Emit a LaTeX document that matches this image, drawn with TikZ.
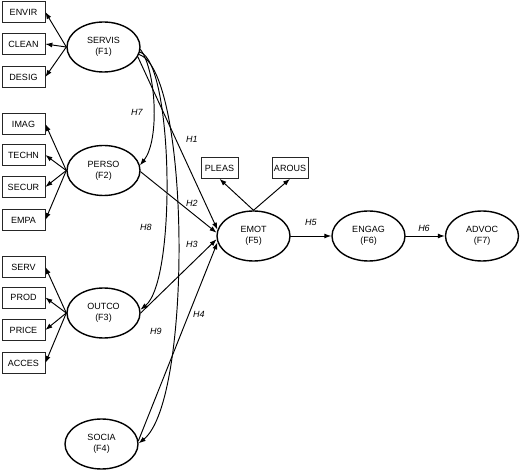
\documentclass[tikz,border=0pt]{standalone}
\usepackage{fontspec}
\setmainfont{Liberation Sans}
\usetikzlibrary{arrows.meta,shapes.geometric}

\begin{document}
\begin{tikzpicture}[x=1pt,y=-1pt,every path/.style={line cap=round},font=\fontsize{9}{11}\selectfont]

        \tikzset{factor/.style = {shape=ellipse,draw,line width=1.4pt,minimum width=73pt,minimum height=50pt,inner sep=0pt,align=center}}
        \tikzset{item/.style = {shape=rectangle,draw=black!85,line width=0.7pt,minimum width=43pt,minimum height=21pt,inner sep=1.5pt}}
        \tikzset{edge/.style = {-{Latex[length=7pt,width=5pt]},line width=0.95pt}}
        \tikzset{hyp/.style = {font=\itshape\fontsize{9}{11}\selectfont}}

        \useasboundingbox (0,0) rectangle (520,470);

        % latent factors
        \node[factor] (SERVIS) at (103.5,47) {SERVIS\\(F1)};
        \node[factor] (PERSO) at (103.5,170.5) {PERSO\\(F2)};
        \node[factor] (OUTCO) at (103.5,313) {OUTCO\\(F3)};
        \node[factor] (SOCIA) at (101.5,444) {SOCIA\\(F4)};
        \node[factor] (EMOT) at (253.5,236) {EMOT\\(F5)};
        \node[factor] (ENGAG) at (368.5,236) {ENGAG\\(F6)};
        \node[factor] (ADVOC) at (482,236) {ADVOC\\(F7)};

        % indicators
        \node[item] (ENVIR) at (23.5,12) {ENVIR};
        \node[item] (CLEAN) at (23.5,44) {CLEAN};
        \node[item] (DESIG) at (23.5,77) {DESIG};
        \node[item] (IMAG) at (23.5,124) {IMAG};
        \node[item] (TECHN) at (23.5,155) {TECHN};
        \node[item] (SECUR) at (23.5,187) {SECUR};
        \node[item] (EMPA) at (23.5,220) {EMPA};
        \node[item] (SERV) at (23.5,267) {SERV};
        \node[item] (PROD) at (23.5,297.5) {PROD};
        \node[item] (PRICE) at (23.5,330) {PRICE};
        \node[item] (ACCES) at (23.5,363) {ACCES};
        \node[item,minimum width=37pt] (PLEAS) at (219.5,168) {PLEAS};
        \node[item,minimum width=36pt] (AROUS) at (290,168) {AROUS};

        \draw[edge] (SERVIS.west) to (ENVIR.east);
        \draw[edge] (SERVIS.west) to (CLEAN.east);
        \draw[edge] (SERVIS.west) to (DESIG.east);
        \draw[edge] (PERSO.west) to (IMAG.east);
        \draw[edge] (PERSO.west) to (TECHN.east);
        \draw[edge] (PERSO.west) to (SECUR.east);
        \draw[edge] (PERSO.west) to (EMPA.east);
        \draw[edge] (OUTCO.west) to (SERV.east);
        \draw[edge] (OUTCO.west) to (PROD.east);
        \draw[edge] (OUTCO.west) to (PRICE.east);
        \draw[edge] (OUTCO.west) to (ACCES.east);
        \draw[edge] (EMOT.north) to (PLEAS.south);
        \draw[edge] (EMOT.north) to (AROUS.south);

        % hypotheses
        \draw[edge] (SERVIS.-16) to (EMOT.170);
        \draw[edge] (PERSO.-2) to (EMOT.175);
        \draw[edge] (OUTCO.0) to (EMOT.185);
        \draw[edge] (SOCIA.5) to (EMOT.190);
        \draw[edge] (EMOT.east) to (ENGAG.west);
        \draw[edge] (ENGAG.east) to (ADVOC.west);

        \draw[edge] (SERVIS.-4) .. controls (156,70) and (160,140) .. (PERSO.8);
        \draw[edge] (SERVIS.-8) .. controls (173,62) and (177,280) .. (OUTCO.5);
        \draw[edge] (SERVIS.-12) .. controls (190,70) and (193,400) .. (SOCIA.1);

        \node[hyp] (h1) at (192,139) {H1};
        \node[hyp] (h2) at (192,203) {H2};
        \node[hyp] (h3) at (192,244) {H3};
        \node[hyp] (h4) at (199,314) {H4};
        \node[hyp] (h5) at (311,222) {H5};
        \node[hyp] (h6) at (424,228) {H6};
        \node[hyp] (h7) at (137,112) {H7};
        \node[hyp] (h8) at (146,227) {H8};
        \node[hyp] (h9) at (156,331) {H9};
\end{tikzpicture}
\end{document}
